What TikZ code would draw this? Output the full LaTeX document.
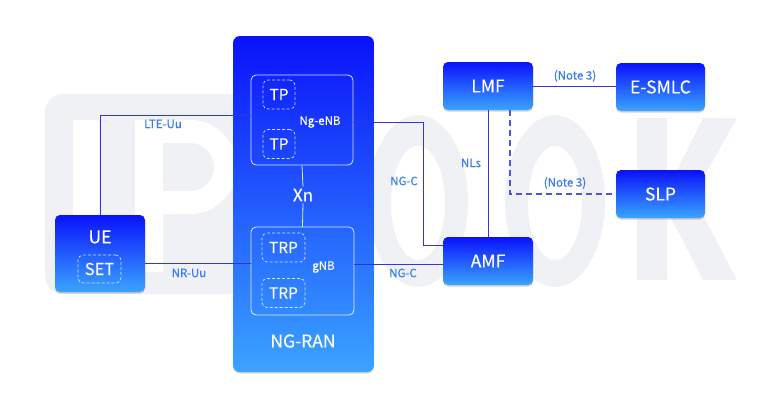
\documentclass[tikz,border=0pt]{standalone}
\usepackage{fontspec}
\setmainfont{Noto Sans CJK SC}
\newfontfamily\tagfont{Noto Sans CJK SC}[FakeBold=0.5]
\newfontfamily\boxfont{Noto Sans CJK SC}[FakeBold=0.3]
\usetikzlibrary{shadows}
\definecolor{Deep}{HTML}{0A12FB}
\definecolor{Sky}{HTML}{3AA4FF}
\definecolor{Wire}{HTML}{3434DA}
\definecolor{Dash}{HTML}{5252DE}
\definecolor{Tag}{HTML}{3A7DEC}
\definecolor{Mark}{HTML}{F0F1F5}

\begin{document}
\begin{tikzpicture}[x=1pt,y=-1pt,
    netbox/.style={rounded corners=5pt,top color=Deep,bottom color=Sky,draw=none,inner sep=0pt,
      drop shadow={shadow xshift=0pt,shadow yshift=-1.5pt,opacity=.3,fill=black!60},
      text=white,font=\boxfont\fontsize{17.5}{17.5}\selectfont,minimum width=90pt,minimum height=48pt},
    cellbox/.style={draw=white,draw opacity=.85,line width=.8pt,rounded corners=5pt,inner sep=0pt},
    tpbox/.style={draw=white,draw opacity=.8,line width=.7pt,dash pattern=on 3pt off 2pt,rounded corners=5pt,
      inner sep=0pt,minimum height=29pt,text=white,font=\boxfont\fontsize{15.5}{15.5}\selectfont},
    wire/.style={draw=Wire,line width=1pt},
    tag/.style={text=Tag,font=\tagfont\fontsize{11.5}{11.5}\selectfont,inner sep=1pt},
    inner/.style={text=white,font=\tagfont\fontsize{11.5}{11.5}\selectfont,inner sep=1pt}
  ]
  \useasboundingbox (0,0) rectangle (780,408);

  % faint IPOOK mark
  \fill[Mark,rounded corners=18pt] (45,94) rectangle (250,294);
  \fill[white] (73,120) rectangle (99,272);
  \fill[white] (135,120) -- (190,120) arc[start angle=-90,end angle=90,radius=47] -- (163,214) -- (163,272) -- (135,272) -- cycle;
  \fill[Mark] (163,143) -- (190,143) arc[start angle=-90,end angle=90,radius=24] -- (163,191) -- cycle;
  \fill[Mark,even odd rule] (418,201) ellipse[x radius=50,y radius=86] (418,203) ellipse[x radius=27,y radius=57];
  \fill[Mark,even odd rule] (555,201) ellipse[x radius=50,y radius=86] (555,203) ellipse[x radius=27,y radius=57];
  \fill[Mark] (637,118) -- (667,118) -- (667,190) -- (703,118) -- (737,118) -- (693,196) -- (737,280)
    -- (703,280) -- (667,210) -- (667,280) -- (637,280) -- cycle;

  % NG-RAN
  \node[netbox,rounded corners=7pt,minimum width=141pt,minimum height=336pt] (ran) at (303.5,204) {};
  \node[text=white,font=\boxfont\fontsize{17.5}{17.5}\selectfont] (ranname) at (303,341) {NG-RAN};
  \node[cellbox,minimum width=102pt,minimum height=90pt] (enb) at (302,120) {};
  \node[tpbox,minimum width=32pt] (tpa) at (279,94.5) {TP};
  \node[tpbox,minimum width=32pt] (tpb) at (279,144) {TP};
  \node[inner] (enbname) at (320,122) {Ng-eNB};
  \node[cellbox,minimum width=103pt,minimum height=88pt] (gnb) at (302.5,271) {};
  \node[tpbox,minimum width=43pt] (trpa) at (283.5,247.5) {TRP};
  \node[tpbox,minimum width=43pt] (trpb) at (283.5,293) {TRP};
  \node[inner] (gnbname) at (323.5,267) {gNB};
  \node[text=white,font=\boxfont\fontsize{17}{17}\selectfont,inner sep=2pt] (xn) at (303,195) {Xn};
  \draw[draw=white,draw opacity=.85,line width=.8pt] (enb.south) -- (xn.north);
  \draw[draw=white,draw opacity=.85,line width=.8pt] (xn.south) -- (gnb.north);

  % UE
  \node[netbox,minimum height=77pt] (ue) at (100,253.5) {};
  \node[text=white,font=\boxfont\fontsize{17.5}{17.5}\selectfont] (uename) at (100,237) {UE};
  \node[tpbox,minimum width=43pt,minimum height=28pt,font=\boxfont\fontsize{16.5}{16.5}\selectfont] (set) at (99.5,269) {SET};

  % core
  \node[netbox] (lmf) at (488,86) {LMF};
  \node[netbox,minimum width=89pt] (esmlc) at (660.5,87) {E-SMLC};
  \node[netbox,minimum width=89pt] (slp) at (660.5,194) {SLP};
  \node[netbox] (amf) at (488,261) {AMF};

  % links
  \draw[wire] (ue.north) |- ([yshift=5pt]enb.west);
  \coordinate (nrl) at ([yshift=-10pt]ue.east);
  \draw[wire] (nrl) -- (nrl -| gnb.west);
  \coordinate (bend) at (423,245);
  \draw[wire] ([yshift=-2pt]enb.east) -| (bend) -- (bend -| amf.west);
  \coordinate (ngl) at ([yshift=7pt]gnb.east);
  \draw[wire] (ngl) -- (ngl -| amf.west);
  \draw[wire] (lmf.south) -- (amf.north);
  \draw[wire] (lmf.east) -- (lmf.east -| esmlc.west);
  \draw[wire,draw=Dash,line width=1.4pt,dash pattern=on 6pt off 4pt] ([xshift=22pt]lmf.south) |- (slp.west);

  \node[tag] (lteuu) at (163,124) {LTE-Uu};
  \node[tag] (nruu) at (189,273) {NR-Uu};
  \node[tag] (ngca) at (404,181) {NG-C};
  \node[tag] (ngcb) at (403,273) {NG-C};
  \node[tag] (nls) at (471,163) {NLs};
  \node[tag] (notea) at (575,76) {(Note 3)};
  \node[tag] (noteb) at (565,183) {(Note 3)};
\end{tikzpicture}
\end{document}
